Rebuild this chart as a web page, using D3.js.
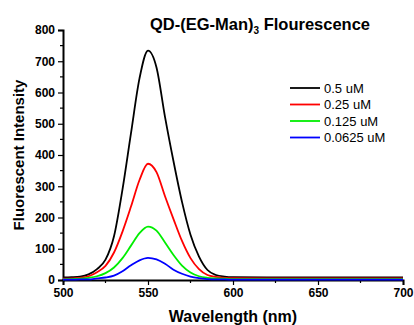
<!DOCTYPE html>
<html>
<head>
<meta charset="utf-8">
<script src="https://cdn.jsdelivr.net/npm/d3@7"></script>
<style>
  html, body { margin: 0; padding: 0; background: #fff; }
  svg { display: block; font-family: "Liberation Sans", Arial, sans-serif; }
</style>
</head>
<body>
<svg id="chart" width="414" height="325"></svg>
<script>
// Emission spectra of QD-(EG-Man)3 at four concentrations
const wavelengths = [500, 505, 510, 515, 520, 525, 530, 535, 540, 545, 550, 555, 560, 565, 570, 575, 580, 585, 590, 595, 600, 620, 650, 680, 700];
const conc050  = [8, 9, 11, 18, 35, 65, 140, 290, 470, 645, 734, 680, 522, 380, 250, 145, 75, 32, 16, 11, 9, 8, 8, 8, 8];
const conc025  = [4, 5, 7, 12, 25, 45, 88, 155, 235, 320, 372, 345, 268, 195, 125, 70, 35, 16, 10, 7, 6, 5, 5, 5, 5];
const conc0125 = [2, 3, 4, 7, 12, 22, 40, 70, 110, 150, 171, 158, 120, 80, 46, 24, 12, 7, 5, 4, 3, 3, 3, 3, 3];
const conc00625 = [1, 1, 2, 2, 5, 8, 14, 28, 47, 63, 71, 66, 52, 33, 20, 11, 6, 3, 2, 2, 1, 1, 1, 1, 1];

const seriesNames = ["0.5 uM", "0.25 uM", "0.125 uM", "0.0625 uM"];
const seriesColors = ["#000000", "#ff0000", "#00ee00", "#0000ff"];
const seriesValues = [conc050, conc025, conc0125, conc00625];

const yTicks = [0, 100, 200, 300, 400, 500, 600, 700, 800];
const xTicks = [500, 550, 600, 650, 700];

const margin = { left: 63, right: 11, top: 30, bottom: 45 };
const width = 414, height = 325;

const svg = d3.select("#chart");

const x = d3.scaleLinear().domain([500, 700]).range([margin.left, width - margin.right]);
const y = d3.scaleLinear().domain([0, 800]).range([height - margin.bottom, margin.top]);

// clip curves to the plotting region
svg.append("defs").append("clipPath").attr("id", "plot-clip")
  .append("rect")
  .attr("x", x(500)).attr("y", y(800))
  .attr("width", x(700) - x(500)).attr("height", y(0) - y(800) + 1);

// axes: major ticks with labels, minor ticks between
const xMinor = d3.range(525, 700, 50);
const yMinor = d3.range(50, 800, 100);

const xAxisG = svg.append("g").attr("transform", `translate(0,${y(0)})`);
xAxisG.call(d3.axisBottom(x).tickValues(xTicks).tickSize(5).tickPadding(3).tickFormat(d3.format("d")));
xAxisG.selectAll(".minor").data(xMinor).enter().append("line")
  .attr("x1", d => x(d)).attr("x2", d => x(d)).attr("y1", 0).attr("y2", 3)
  .attr("stroke", "#000").attr("stroke-width", 1.2);

const yAxisG = svg.append("g").attr("transform", `translate(${x(500)},0)`);
yAxisG.call(d3.axisLeft(y).tickValues(yTicks).tickSize(5).tickPadding(3).tickFormat(d3.format("d")));
yAxisG.selectAll(".minor").data(yMinor).enter().append("line")
  .attr("y1", d => y(d)).attr("y2", d => y(d)).attr("x1", 0).attr("x2", -3)
  .attr("stroke", "#000").attr("stroke-width", 1.2);

[xAxisG, yAxisG].forEach(g => {
  g.select(".domain").attr("stroke", "#000").attr("stroke-width", 2);
  g.selectAll(".tick line").attr("stroke", "#000").attr("stroke-width", 1.2);
  g.selectAll(".tick text")
    .attr("fill", "#000")
    .style("font-family", "'Liberation Sans', Arial, sans-serif")
    .style("font-size", "12px")
    .style("font-weight", "bold");
});

// spectra
const line = d3.line()
  .x((d, i) => x(wavelengths[i]))
  .y(d => y(d))
  .curve(d3.curveMonotoneX);

svg.append("g").attr("clip-path", "url(#plot-clip)")
  .selectAll("path")
  .data(seriesValues)
  .enter().append("path")
  .attr("d", d => line(d))
  .attr("fill", "none")
  .attr("stroke", (d, i) => seriesColors[i])
  .attr("stroke-width", 1.8);

// legend
const legend = svg.append("g").attr("transform", "translate(290,88)");
seriesNames.forEach((name, i) => {
  const row = legend.append("g").attr("transform", `translate(0,${i * 16.5})`);
  row.append("line").attr("x1", 0).attr("x2", 30).attr("y1", 0).attr("y2", 0)
    .attr("stroke", seriesColors[i]).attr("stroke-width", 1.8);
  row.append("text").attr("x", 34).attr("y", 4.8)
    .style("font-size", "13px").attr("fill", "#000").text(name);
});

// title with subscript
const title = svg.append("text")
  .attr("x", 260).attr("y", 30)
  .attr("text-anchor", "middle")
  .style("font-size", "16.5px").style("font-weight", "bold");
title.append("tspan").text("QD-(EG-Man)");
title.append("tspan").attr("dy", 4).style("font-size", "10px").text("3");
title.append("tspan").attr("dy", -4).text(" Flourescence");

// axis titles
svg.append("text")
  .attr("x", 233).attr("y", 322)
  .attr("text-anchor", "middle")
  .style("font-size", "16px").style("font-weight", "bold")
  .text("Wavelength (nm)");

svg.append("text")
  .attr("transform", `translate(24,155) rotate(-90)`)
  .attr("text-anchor", "middle")
  .style("font-size", "15px").style("font-weight", "bold")
  .text("Fluorescent Intensity");
</script>
</body>
</html>
